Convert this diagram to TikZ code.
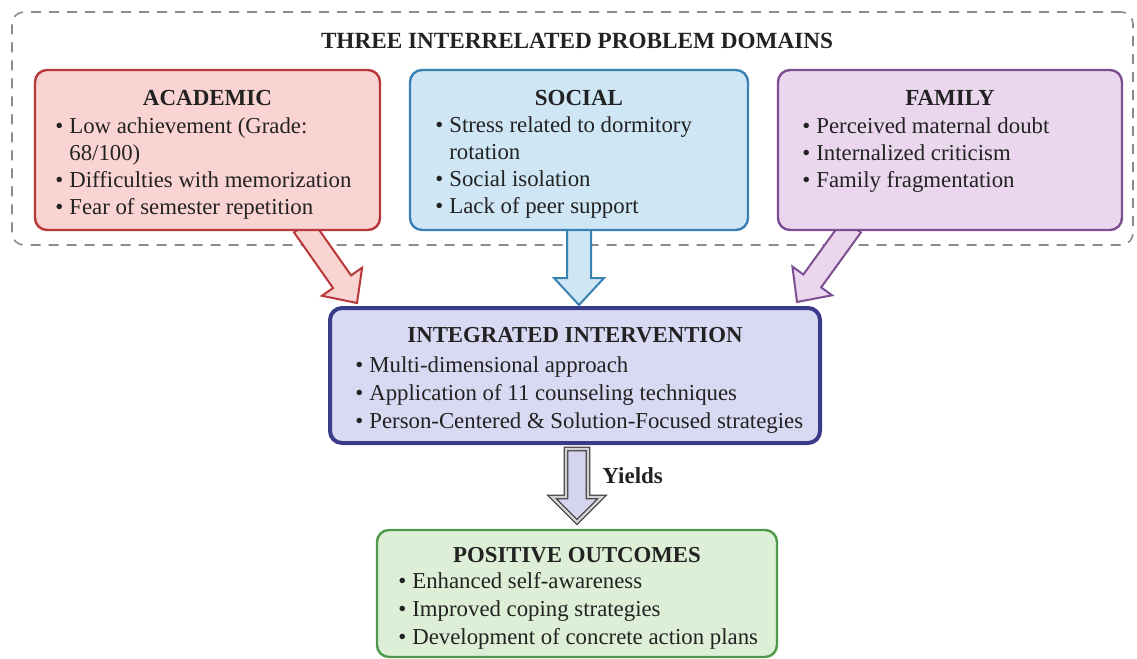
\documentclass[tikz,border=0pt]{standalone}
\usepackage{fontspec}
\setmainfont{Liberation Serif}
\usetikzlibrary{calc}
\definecolor{acadF}{HTML}{F9D4D2}
\definecolor{acadD}{HTML}{B8383A}
\definecolor{socF}{HTML}{CFE6F5}
\definecolor{socD}{HTML}{3A82B4}
\definecolor{famF}{HTML}{EAD7EE}
\definecolor{famD}{HTML}{7E4E92}
\definecolor{intF}{HTML}{D9D9F3}
\definecolor{intD}{HTML}{3A3A8A}
\definecolor{outF}{HTML}{DDEFD6}
\definecolor{outD}{HTML}{4E9A4A}
\definecolor{yldF}{HTML}{D4D4EE}
\definecolor{dashC}{HTML}{8C8C8C}
\definecolor{txt}{HTML}{222222}
\pgfdeclarelayer{back}
\pgfsetlayers{back,main}
\newcommand{\blist}[1]{\begin{tabular}[t]{@{}l@{\hspace{3pt}}l@{}}#1\end{tabular}}
% #1 style, #2 start, #3 tip, #4 shaft half width, #5 head half width, #6 head length
\newcommand{\blockarrow}[6]{%
  \path ($(#3)!#6!(#2)$) coordinate (bH);
  \draw[#1] ($(#2)!#4!90:(#3)$) -- ($(bH)!#4!90:(#3)$) -- ($(bH)!#5!90:(#3)$) -- (#3)
    -- ($(bH)!#5!-90:(#3)$) -- ($(bH)!#4!-90:(#3)$) -- ($(#2)!#4!-90:(#3)$) -- cycle;}
\tikzset{
  box/.style={rounded corners=6pt, line width=1.2pt, inner sep=0pt, outer sep=0pt},
  body/.style={font=\fontsize{11.4}{13.5}\selectfont, text=txt, inner sep=0pt, anchor=base west, align=left},
  bodyb/.style={font=\fontsize{11.4}{14}\selectfont, text=txt, inner sep=0pt, anchor=base west, align=left},
  ttl/.style={font=\fontsize{11.5}{13}\selectfont\bfseries, text=txt, inner sep=0pt, anchor=base},
  bigttl/.style={font=\fontsize{11.4}{14}\selectfont\bfseries, text=txt, inner sep=0pt, anchor=base},
  barrow/.style={line width=1pt, line join=miter},
}
\begin{document}
\begin{tikzpicture}[x=0.5pt,y=-0.5pt]
\useasboundingbox (0,0) rectangle (1137,659);

% boxes
\node[box, draw=acadD, fill=acadF, minimum width=172.5pt, minimum height=80pt] (acad) at (207.5,150) {};
\node[box, draw=socD, fill=socF, minimum width=169pt, minimum height=80pt] (social) at (579,150) {};
\node[box, draw=famD, fill=famF, minimum width=172pt, minimum height=80pt] (family) at (950,150) {};
\node[box, draw=intD, fill=intF, line width=2pt, minimum width=245pt, minimum height=67.5pt] (interv) at (575,375.5) {};
\node[box, draw=outD, fill=outF, minimum width=200pt, minimum height=63.5pt] (outc) at (577,593.5) {};

% background: dashed frame and arrows
\begin{pgfonlayer}{back}
\node[rounded corners=6pt, draw=dashC, line width=0.8pt, dash pattern=on 5pt off 4pt,
      minimum width=560.5pt, minimum height=116.5pt, inner sep=0pt] (domains) at (572.5,128.5) {};
\coordinate (aS) at ($(acad.south)+(95.5,-4)$);
\coordinate (aT) at ($(interv.north)+(-218,-5)$);
\coordinate (sS) at ($(social.south)+(0,-4)$);
\coordinate (sT) at ($(interv.north)+(4,-3)$);
\coordinate (fS) at ($(family.south)+(-98,-4)$);
\coordinate (fT) at ($(interv.north)+(222,-6)$);
\blockarrow{barrow, draw=acadD, fill=acadF}{aS}{aT}{5.5pt}{12.25pt}{13pt}
\blockarrow{barrow, draw=socD, fill=socF}{sS}{sT}{6pt}{12.5pt}{13.5pt}
\blockarrow{barrow, draw=famD, fill=famF}{fS}{fT}{5.5pt}{12.25pt}{13pt}
\end{pgfonlayer}

\coordinate (yS) at ($(interv.south)+(2,6)$);
\coordinate (yT) at ($(outc.north)+(0,-8)$);
\blockarrow{draw=black!75, fill=yldF, line width=0.6pt, double=gray!35, double distance=1.2pt, line join=miter}{yS}{yT}{5.5pt}{12.5pt}{12.5pt}
\node[ttl, anchor=base west] (yields) at (602,483) {Yields};

% texts
\node[ttl, font=\fontsize{11.6}{14}\selectfont\bfseries] (maintitle) at (577,48) {THREE INTERRELATED PROBLEM DOMAINS};

\node[ttl] (acadT) at (207.5,105) {ACADEMIC};
\node[body] (acadL) at (55,133) {\blist{\textbullet & Low achievement (Grade:\\ & 68/100)\\ \textbullet & Difficulties with memorization\\ \textbullet & Fear of semester repetition}};

\node[ttl] (socT) at (579,105) {SOCIAL};
\node[body] (socL) at (435,132) {\blist{\textbullet & Stress related to dormitory\\ & rotation\\ \textbullet & Social isolation\\ \textbullet & Lack of peer support}};

\node[ttl] (famT) at (950,105) {FAMILY};
\node[body] (famL) at (802,133) {\blist{\textbullet & Perceived maternal doubt\\ \textbullet & Internalized criticism\\ \textbullet & Family fragmentation}};

\node[bigttl] (intT) at (575,342) {INTEGRATED INTERVENTION};
\node[bodyb] (intL) at (355,372) {\blist{\textbullet & Multi-dimensional approach\\ \textbullet & Application of 11 counseling techniques\\ \textbullet & Person-Centered \& Solution-Focused strategies}};

\node[bigttl] (outT) at (577,562) {POSITIVE OUTCOMES};
\node[bodyb] (outL) at (398,588) {\blist{\textbullet & Enhanced self-awareness\\ \textbullet & Improved coping strategies\\ \textbullet & Development of concrete action plans}};
\end{tikzpicture}
\end{document}
